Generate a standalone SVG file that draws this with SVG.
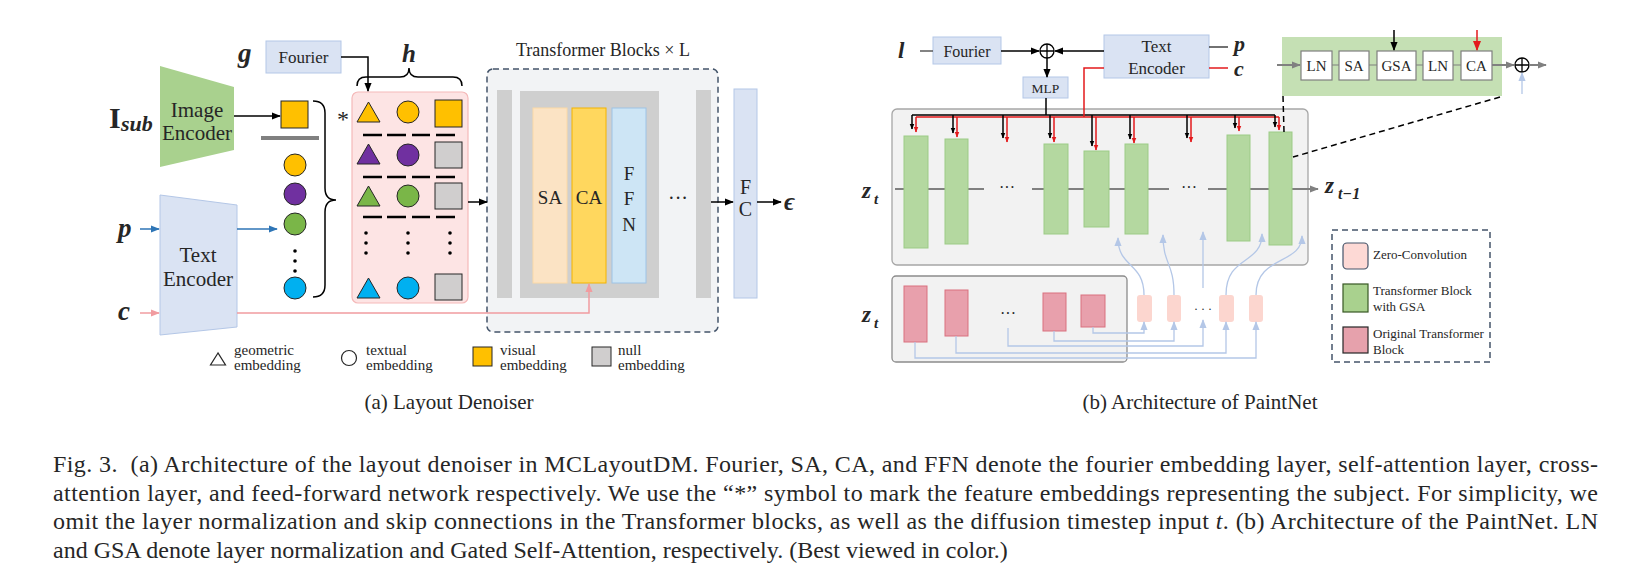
<svg xmlns="http://www.w3.org/2000/svg" width="1651" height="572" viewBox="0 0 1651 572">
<style>
.t{font-family:"Liberation Serif","Times New Roman",serif;fill:#262626}
.m{font-family:"Liberation Serif","Times New Roman",serif;font-weight:bold;font-style:italic;fill:#262626}
.k{stroke:#000;stroke-width:1.5;fill:none}
.bl{stroke:#2e75b6;stroke-width:1.5;fill:none}
.pk{stroke:#f19ca0;stroke-width:1.5;fill:none}
.rd{stroke:#e31a1c;stroke-width:1.5;fill:none}
.gy{stroke:#808080;stroke-width:2;fill:none}
.lb{stroke:#b4c7e7;stroke-width:1.3;fill:none}
.sh{stroke:#262626;stroke-width:1}
.dash{stroke:#000;stroke-width:2.5}
.gb{fill:#b4d8a0;stroke:#9ccb86;stroke-width:1}
.pb{fill:#e8a0ac;stroke:#d9707f;stroke-width:1}
.zc{fill:#fcd6cf}
.bx{fill:#fff;stroke:#7f7f7f;stroke-width:1.2}
</style>
<defs>
<marker id="ak" viewBox="0 0 10 10" refX="9" refY="5" markerWidth="9" markerHeight="9" orient="auto" markerUnits="userSpaceOnUse"><path d="M0,1 L10,5 L0,9 z" fill="#000"/></marker>
<marker id="aks" viewBox="0 0 10 10" refX="9" refY="5" markerWidth="6" markerHeight="6" orient="auto" markerUnits="userSpaceOnUse"><path d="M0,1 L10,5 L0,9 z" fill="#000"/></marker>
<marker id="ars" viewBox="0 0 10 10" refX="9" refY="5" markerWidth="6" markerHeight="6" orient="auto" markerUnits="userSpaceOnUse"><path d="M0,1 L10,5 L0,9 z" fill="#e31a1c"/></marker>
<marker id="ar" viewBox="0 0 10 10" refX="9" refY="5" markerWidth="10" markerHeight="10" orient="auto" markerUnits="userSpaceOnUse"><path d="M0,1 L10,5 L0,9 z" fill="#e31a1c"/></marker>
<marker id="ab" viewBox="0 0 10 10" refX="9" refY="5" markerWidth="9" markerHeight="9" orient="auto" markerUnits="userSpaceOnUse"><path d="M0,1 L10,5 L0,9 z" fill="#2e75b6"/></marker>
<marker id="ap" viewBox="0 0 10 10" refX="9" refY="5" markerWidth="9" markerHeight="9" orient="auto" markerUnits="userSpaceOnUse"><path d="M0,1 L10,5 L0,9 z" fill="#f19ca0"/></marker>
<marker id="ag" viewBox="0 0 10 10" refX="9" refY="5" markerWidth="9" markerHeight="9" orient="auto" markerUnits="userSpaceOnUse"><path d="M0,1 L10,5 L0,9 z" fill="#808080"/></marker>
<marker id="al" viewBox="0 0 10 10" refX="9" refY="5" markerWidth="9" markerHeight="9" orient="auto" markerUnits="userSpaceOnUse"><path d="M0,1 L10,5 L0,9 z" fill="#b4c7e7"/></marker>
</defs>
<rect width="1651" height="572" fill="#fff"/>

<!-- ===== LEFT PANEL ===== -->
<g id="isub"><text class="t" x="109" y="128" font-size="30" font-weight="bold">I</text><text class="m" x="121" y="131" font-size="22">sub</text></g>
<g id="image-encoder"><polygon points="160,66 234,87 234,150 160,167" fill="#a9d18e"/><text class="t" x="197" y="117" font-size="21" text-anchor="middle">Image</text><text class="t" x="197" y="140" font-size="21" text-anchor="middle">Encoder</text></g>
<g id="p-left"><text class="m" x="118" y="237" font-size="27">p</text></g>
<g id="c-left"><text class="m" x="118" y="320" font-size="27">c</text></g>
<g id="text-encoder-left"><polygon points="160,195 237,205 237,327 160,335" fill="#dae3f3" stroke="#b4c7e7" stroke-width="1"/><text class="t" x="198" y="262" font-size="21" text-anchor="middle">Text</text><text class="t" x="198" y="286" font-size="21" text-anchor="middle">Encoder</text></g>
<g id="g-label"><text class="m" x="238" y="62" font-size="27">g</text></g>
<g id="fourier-left"><rect x="266" y="41" width="75" height="32" fill="#dae3f3" stroke="#b4c7e7"/><text class="t" x="303.5" y="63" font-size="17" text-anchor="middle" fill="#404040">Fourier</text></g>
<g id="h-label"><text class="m" x="402" y="62" font-size="25">h</text><path class="k" stroke-width="1.5" d="M357,86 Q357,77 366,77 L400,77 Q409,77 409,68 Q409,77 418,77 L453,77 Q462,77 462,86"/></g>

<g id="subject-col">
<rect x="281" y="101" width="27" height="27" fill="#ffc000" class="sh"/>
<rect x="261" y="136" width="58" height="4" fill="#808080"/>
<circle cx="295" cy="165" r="11" fill="#ffc000" class="sh"/>
<circle cx="295" cy="194" r="11" fill="#7030a0" class="sh"/>
<circle cx="295" cy="224" r="11" fill="#7ab648" class="sh"/>
<circle cx="295" cy="251" r="1.8" fill="#000"/><circle cx="295" cy="261" r="1.8" fill="#000"/><circle cx="295" cy="271" r="1.8" fill="#000"/>
<circle cx="295" cy="288" r="11" fill="#00b0f0" class="sh"/>
<path class="k" d="M313,101 Q325,101 325,113 L325,188 Q325,200 336,200 Q325,200 325,212 L325,285 Q325,297 313,297"/>
<text class="t" x="337" y="127" font-size="24">*</text>
</g>

<g id="embedding-matrix">
<rect x="352" y="92" width="116" height="211" rx="6" fill="#fde4e4" stroke="#f5b9b9" stroke-width="1.2"/>
<polygon points="368.5,102 357,122 380,122" fill="#ffc000" class="sh"/>
<circle cx="408" cy="112" r="11" fill="#ffc000" class="sh"/>
<rect x="435" y="100" width="27" height="27" fill="#ffc000" class="sh"/>
<polygon points="368.5,144 357,164 380,164" fill="#7030a0" class="sh"/>
<circle cx="408" cy="155" r="11" fill="#7030a0" class="sh"/>
<rect x="435" y="142" width="27" height="26" fill="#d0cece" class="sh"/>
<polygon points="368.5,186 357,206 380,206" fill="#7ab648" class="sh"/>
<circle cx="408" cy="196" r="11" fill="#7ab648" class="sh"/>
<rect x="435" y="183" width="27" height="26" fill="#d0cece" class="sh"/>
<polygon points="368.5,278 357,298 380,298" fill="#00b0f0" class="sh"/>
<circle cx="408" cy="288" r="11" fill="#00b0f0" class="sh"/>
<rect x="435" y="274" width="27" height="26" fill="#d0cece" class="sh"/>
<g class="dash">
<path d="M363,135 H382 M387,135 H406 M412,135 H430 M436,135 H455"/>
<path d="M363,177 H382 M387,177 H406 M412,177 H430 M436,177 H455"/>
<path d="M363,217 H382 M387,217 H406 M412,217 H430 M436,217 H455"/>
</g>
<g fill="#000">
<circle cx="366" cy="233" r="1.8"/><circle cx="366" cy="243" r="1.8"/><circle cx="366" cy="253" r="1.8"/>
<circle cx="408" cy="233" r="1.8"/><circle cx="408" cy="243" r="1.8"/><circle cx="408" cy="253" r="1.8"/>
<circle cx="450" cy="233" r="1.8"/><circle cx="450" cy="243" r="1.8"/><circle cx="450" cy="253" r="1.8"/>
</g>
</g>

<g id="transformer-blocks">
<text class="t" x="603" y="56" font-size="18" text-anchor="middle" fill="#595959">Transformer Blocks × L</text>
<rect x="487" y="69" width="231" height="263" rx="6" fill="#f2f3f5" stroke="#44546a" stroke-width="1.5" stroke-dasharray="6,4"/>
<rect x="497" y="90" width="15" height="208" fill="#cfcfcf"/>
<rect x="520" y="91" width="139" height="207" fill="#cfcfcf"/>
<rect x="533" y="108" width="34" height="175" fill="#fbe3c4" stroke="#fcd9a6" stroke-width="1"/>
<rect x="572" y="108" width="34" height="175" fill="#ffd75e" stroke="#f4b400" stroke-width="1"/>
<rect x="612" y="108" width="34" height="175" fill="#cde5f5" stroke="#9dc3e6" stroke-width="1"/>
<text class="t" x="550" y="204" font-size="19" text-anchor="middle">SA</text>
<text class="t" x="589" y="204" font-size="19" text-anchor="middle">CA</text>
<text class="t" x="629" y="180" font-size="19" text-anchor="middle" fill="#44546a">F</text>
<text class="t" x="629" y="205" font-size="19" text-anchor="middle" fill="#44546a">F</text>
<text class="t" x="629" y="231" font-size="19" text-anchor="middle" fill="#44546a">N</text>
<text class="t" x="678" y="205" font-size="20" text-anchor="middle">···</text>
<rect x="696" y="90" width="15" height="208" fill="#cfcfcf"/>
</g>
<g id="fc"><rect x="734" y="89" width="23" height="209" fill="#dae3f3" stroke="#b4c7e7"/><text class="t" x="745.5" y="194" font-size="20" text-anchor="middle" fill="#595959">F</text><text class="t" x="745.5" y="216" font-size="20" text-anchor="middle" fill="#595959">C</text></g>
<g id="epsilon"><text class="m" x="784" y="210" font-size="25">ϵ</text></g>

<g id="legend-left">
<polygon points="218,353 210.5,365 225.5,365" fill="none" stroke="#262626" stroke-width="1.2"/>
<text class="t" x="234" y="355" font-size="15" fill="#404040">geometric</text><text class="t" x="234" y="370" font-size="15" fill="#404040">embedding</text>
<circle cx="349" cy="358" r="7.5" fill="none" stroke="#262626" stroke-width="1.2"/>
<text class="t" x="366" y="355" font-size="15" fill="#404040">textual</text><text class="t" x="366" y="370" font-size="15" fill="#404040">embedding</text>
<rect x="473" y="347" width="19" height="19" fill="#ffc000" class="sh"/>
<text class="t" x="500" y="355" font-size="15" fill="#404040">visual</text><text class="t" x="500" y="370" font-size="15" fill="#404040">embedding</text>
<rect x="592" y="347" width="19" height="19" fill="#d0cece" class="sh"/>
<text class="t" x="618" y="355" font-size="15" fill="#404040">null</text><text class="t" x="618" y="370" font-size="15" fill="#404040">embedding</text>
</g>

<g id="connectors-left">
<path class="k" d="M341,57 H368 V91" marker-end="url(#ak)"/>
<path class="k" d="M234,116 H280" marker-end="url(#ak)"/>
<path class="bl" d="M140,229 H159" marker-end="url(#ab)"/>
<path class="bl" d="M237,229 H277" marker-end="url(#ab)"/>
<path class="pk" d="M140,313 H159" marker-end="url(#ap)"/>
<path class="pk" d="M237,313 H589 V284" marker-end="url(#ap)"/>
<path class="k" d="M468,202 H487" marker-end="url(#ak)"/>
<path class="k" d="M711,202 H733" marker-end="url(#ak)"/>
<path class="k" d="M757,202 H781" marker-end="url(#ak)"/>
</g>

<!-- ===== RIGHT PANEL ===== -->
<g id="l-label"><text class="m" x="898" y="58" font-size="23">l</text></g>
<g id="fourier-right"><rect x="933" y="37" width="68" height="27" fill="#dae3f3" stroke="#b4c7e7"/><text class="t" x="967" y="57" font-size="16" text-anchor="middle" fill="#404040">Fourier</text></g>
<g id="oplus-top"><circle cx="1047" cy="51" r="7" fill="none" stroke="#000" stroke-width="1.3"/><path d="M1040,51 H1054 M1047,44 V58" stroke="#000" stroke-width="1.3"/></g>
<g id="mlp"><rect x="1023" y="77" width="45" height="21" fill="#dae3f3" stroke="#b4c7e7"/><text class="t" x="1045.5" y="93" font-size="13.5" text-anchor="middle" fill="#404040">MLP</text></g>
<g id="text-encoder-right"><rect x="1104" y="35" width="105" height="43" fill="#dae3f3" stroke="#b4c7e7"/><text class="t" x="1156.5" y="52" font-size="17" text-anchor="middle" fill="#404040">Text</text><text class="t" x="1156.5" y="73.5" font-size="17" text-anchor="middle" fill="#404040">Encoder</text></g>
<g id="p-right"><text class="m" x="1234" y="51" font-size="22">p</text></g>
<g id="c-right"><text class="m" x="1234" y="76" font-size="22">c</text></g>

<g id="paintnet-main">
<rect x="892" y="109" width="416" height="156" rx="5" fill="#f2f2f2" stroke="#a6a6a6" stroke-width="1.3"/>
<path class="gy" d="M895,189 H984 M1032,189 H1169 M1208,189 H1318" marker-end="url(#ag)"/>
<text class="t" x="1007" y="193" font-size="16" text-anchor="middle" fill="#808080">···</text>
<text class="t" x="1189" y="193" font-size="16" text-anchor="middle" fill="#808080">···</text>
<rect class="gb" x="904" y="136" width="24" height="112"/>
<rect class="gb" x="945" y="139" width="23" height="105"/>
<rect class="gb" x="1044" y="144" width="24" height="90"/>
<rect class="gb" x="1084" y="151" width="25" height="76"/>
<rect class="gb" x="1125" y="144" width="23" height="90"/>
<rect class="gb" x="1227" y="135" width="23" height="106"/>
<rect class="gb" x="1269" y="132" width="23" height="113"/>
</g>
<g id="zt-top"><text class="m" x="862" y="198" font-size="23">z</text><text class="m" x="874" y="204" font-size="15">t</text></g>
<g id="zt-1"><text class="m" x="1325" y="193" font-size="23">z</text><text class="m" x="1338" y="199" font-size="16">t−1</text></g>

<g id="paintnet-control">
<rect x="892" y="276" width="235" height="86" rx="4" fill="#f2f2f2" stroke="#8c8c8c" stroke-width="1.3"/>
<rect class="pb" x="904" y="286" width="23" height="56"/>
<rect class="pb" x="945" y="290" width="23" height="46"/>
<text class="t" x="1008" y="319" font-size="16" text-anchor="middle">···</text>
<rect class="pb" x="1043" y="293" width="23" height="38"/>
<rect class="pb" x="1081" y="295" width="24" height="32"/>
</g>
<g id="zt-bottom"><text class="m" x="862" y="322" font-size="23">z</text><text class="m" x="874" y="328" font-size="15">t</text></g>

<g id="zero-convs">
<rect class="zc" x="1137" y="295" width="15" height="27" rx="3"/>
<rect class="zc" x="1167" y="295" width="14" height="27" rx="3"/>
<text class="t" x="1203" y="313" font-size="12" text-anchor="middle" fill="#f4b8b0">· · ·</text>
<rect class="zc" x="1219" y="295" width="15" height="27" rx="3"/>
<rect class="zc" x="1249" y="295" width="14" height="27" rx="3"/>
</g>

<g id="gsa-block">
<rect x="1282" y="37" width="220" height="59" fill="#c5e0b4"/>
<rect class="bx" x="1301" y="51" width="31" height="29"/><text class="t" x="1316.5" y="71" font-size="15" text-anchor="middle">LN</text>
<rect class="bx" x="1339" y="51" width="30" height="29"/><text class="t" x="1354" y="71" font-size="15" text-anchor="middle">SA</text>
<rect class="bx" x="1377" y="51" width="39" height="29"/><text class="t" x="1396.5" y="71" font-size="15" text-anchor="middle">GSA</text>
<rect class="bx" x="1423" y="51" width="30" height="29"/><text class="t" x="1438" y="71" font-size="15" text-anchor="middle">LN</text>
<rect class="bx" x="1461" y="51" width="31" height="29"/><text class="t" x="1476.5" y="71" font-size="15" text-anchor="middle">CA</text>
<path d="M1332,65 H1339 M1369,65 H1377 M1416,65 H1423 M1453,65 H1461" stroke="#7f7f7f" stroke-width="1.2"/>
</g>
<g id="oplus-right"><circle cx="1522" cy="65" r="7" fill="none" stroke="#000" stroke-width="1.3"/><path d="M1515,65 H1529 M1522,58 V72" stroke="#000" stroke-width="1.3"/></g>

<g id="legend-right">
<rect x="1332" y="230" width="158" height="132" fill="none" stroke="#44546a" stroke-width="1.5" stroke-dasharray="6,4"/>
<rect x="1343" y="243" width="25" height="26" rx="4" fill="#fdd9d5" stroke="#44546a" stroke-width="1.2"/>
<text class="t" x="1373" y="259" font-size="13">Zero-Convolution</text>
<rect x="1343" y="284" width="25" height="28" fill="#a9d18e" stroke="#385723" stroke-width="1.2"/>
<text class="t" x="1373" y="295" font-size="13">Transformer Block</text>
<text class="t" x="1373" y="311" font-size="13">with GSA</text>
<rect x="1343" y="327" width="25" height="26" fill="#e6a1ac" stroke="#262626" stroke-width="1.2"/>
<text class="t" x="1373" y="338" font-size="13">Original Transformer</text>
<text class="t" x="1373" y="354" font-size="13">Block</text>
</g>

<g id="connectors-right">
<path d="M920,51 H933" stroke="#404040" stroke-width="1.3"/>
<path class="k" stroke-width="1.3" d="M1001,51 H1039" marker-end="url(#ak)"/>
<path class="k" stroke-width="1.3" d="M1104,51 H1055" marker-end="url(#ak)"/>
<path class="k" stroke-width="1.3" d="M1047,58 V77" marker-end="url(#ak)"/>
<path d="M1209,47 H1228" stroke="#262626" stroke-width="1.3"/>
<path d="M1209,68 H1228" class="rd"/>
<path class="k" stroke-width="1.3" d="M1046,98 V115 M912,115 H1275"/>
<path class="rd" d="M1104,68 H1084 V117 M916,117 H1279"/>
<g class="k" stroke-width="1.2">
<path d="M912,115 V129" marker-end="url(#aks)"/><path d="M953,115 V133" marker-end="url(#aks)"/><path d="M1003,115 V138" marker-end="url(#aks)"/><path d="M1050,115 V138" marker-end="url(#aks)"/><path d="M1092,115 V146" marker-end="url(#aks)"/><path d="M1130,115 V139" marker-end="url(#aks)"/><path d="M1187,115 V138" marker-end="url(#aks)"/><path d="M1235,115 V128" marker-end="url(#aks)"/><path d="M1275,115 V127" marker-end="url(#aks)"/>
</g>
<g class="rd" stroke-width="1.2">
<path d="M916,117 V132" marker-end="url(#ars)"/><path d="M957,117 V137" marker-end="url(#ars)"/><path d="M1007,117 V142" marker-end="url(#ars)"/><path d="M1054,117 V142" marker-end="url(#ars)"/><path d="M1096,117 V150" marker-end="url(#ars)"/><path d="M1134,117 V143" marker-end="url(#ars)"/><path d="M1191,117 V142" marker-end="url(#ars)"/><path d="M1239,117 V131" marker-end="url(#ars)"/><path d="M1279,117 V130" marker-end="url(#ars)"/>
</g>
<path class="gy" stroke-width="1.5" d="M1277,65 H1300" marker-end="url(#ag)"/>
<path class="gy" stroke-width="1.5" d="M1492,65 H1514" marker-end="url(#ag)"/>
<path class="gy" stroke-width="1.5" d="M1529,65 H1546" marker-end="url(#ag)"/>
<path class="lb" stroke-width="1.5" d="M1522,94 V73" marker-end="url(#al)"/>
<path class="k" stroke-width="1.5" d="M1394,30 V50" marker-end="url(#ak)"/>
<path class="rd" stroke-width="1.5" d="M1477,30 V50" marker-end="url(#ar)"/>
<path d="M1283,96 L1284,132 M1500,97 L1293,157" stroke="#000" stroke-width="1.5" stroke-dasharray="6,4" fill="none"/>
<path class="lb" d="M1144,295 C1144,262 1118,268 1118,238" marker-end="url(#al)"/>
<path class="lb" d="M1174,295 C1174,262 1163,265 1163,235" marker-end="url(#al)"/>
<path class="lb" d="M1203,288 V232" marker-end="url(#al)"/>
<path class="lb" d="M1226,295 C1226,255 1262,265 1262,234" marker-end="url(#al)"/>
<path class="lb" d="M1256,295 C1256,255 1302,265 1302,236" marker-end="url(#al)"/>
<path class="lb" d="M1093,327 V333 H1144 V322" marker-end="url(#al)"/>
<path class="lb" d="M1054,331 V341 H1174 V322" marker-end="url(#al)"/>
<path class="lb" d="M1008,328 V346 H1203 V320" marker-end="url(#al)"/>
<path class="lb" d="M956,336 V353 H1226 V322" marker-end="url(#al)"/>
<path class="lb" d="M915,342 V358 H1256 V322" marker-end="url(#al)"/>
</g>

<!-- ===== CAPTIONS ===== -->
<g id="captions">
<text class="t" x="449" y="409" font-size="21" text-anchor="middle">(a) Layout Denoiser</text>
<text class="t" x="1200" y="409" font-size="21" text-anchor="middle">(b) Architecture of PaintNet</text>
<text class="t" x="53" y="472" font-size="24" textLength="1545" lengthAdjust="spacing">Fig. 3.&#160; (a) Architecture of the layout denoiser in MCLayoutDM. Fourier, SA, CA, and FFN denote the fourier embedding layer, self-attention layer, cross-</text>
<text class="t" x="53" y="501" font-size="24" textLength="1545" lengthAdjust="spacing">attention layer, and feed-forward network respectively. We use the “*” symbol to mark the feature embeddings representing the subject. For simplicity, we</text>
<text class="t" x="53" y="529" font-size="24" textLength="1545" lengthAdjust="spacing">omit the layer normalization and skip connections in the Transformer blocks, as well as the diffusion timestep input <tspan font-style="italic">t</tspan>. (b) Architecture of the PaintNet. LN</text>
<text class="t" x="53" y="558" font-size="24">and GSA denote layer normalization and Gated Self-Attention, respectively. (Best viewed in color.)</text>
</g>
</svg>
